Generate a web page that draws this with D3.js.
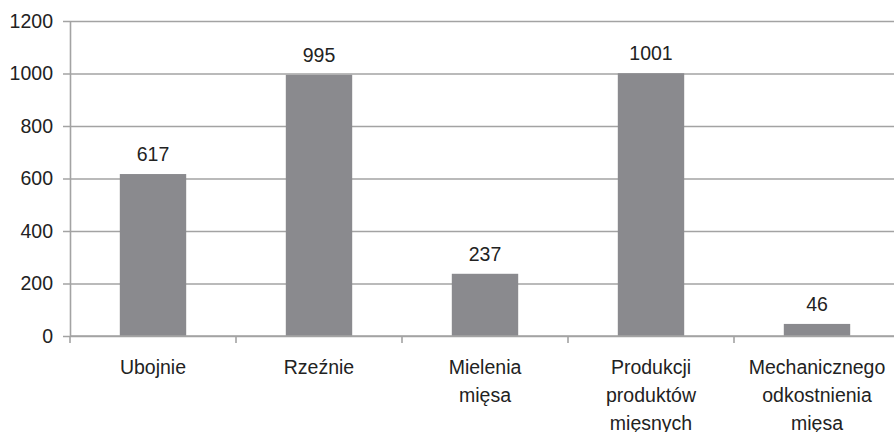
<!DOCTYPE html>
<html>
<head>
<meta charset="utf-8">
<script src="https://cdn.jsdelivr.net/npm/d3@7"></script>
<style>
  body { margin: 0; background: #fff; }
  text { font-family: "Liberation Sans", Arial, sans-serif; fill: #222; }
</style>
</head>
<body>
<div id="chart"></div>
<script>
// Data
var categories = ["Ubojnie", "Rzeźnie", "Mielenia mięsa", "Produkcji produktów mięsnych", "Mechanicznego odkostnienia mięsa"];
var labelLines = [["Ubojnie"], ["Rzeźnie"], ["Mielenia", "mięsa"], ["Produkcji", "produktów", "mięsnych"], ["Mechanicznego", "odkostnienia", "mięsa"]];
var values = [617, 995, 237, 1001, 46];
var yTicks = [0, 200, 400, 600, 800, 1000, 1200];

var svgWidth = 894;
var svgHeight = 432;
var fontSize = "19.5px";

var margin = { top: 21, right: -6, bottom: 96, left: 70 };
var chartWidth = svgWidth - margin.left - margin.right;
var chartHeight = svgHeight - margin.top - margin.bottom;

var svg = d3.select("#chart")
  .append("svg")
  .attr("width", svgWidth)
  .attr("height", svgHeight)
  .style("display", "block");

var chartGroup = svg.append("g")
  .attr("transform", `translate(${margin.left}, ${margin.top})`);

var xScale = d3.scaleBand()
  .domain(categories)
  .range([0, chartWidth])
  .paddingInner(0.6)
  .paddingOuter(0.3);

var yScale = d3.scaleLinear()
  .domain([0, 1200])
  .range([chartHeight, 0]);

// grid lines (with the little tick stubs on the left)
var yGrid = d3.axisLeft(yScale)
  .tickValues(yTicks)
  .tickSize(-chartWidth)
  .tickFormat("");

var gridG = chartGroup.append("g").call(yGrid);
gridG.select(".domain").remove();
gridG.selectAll("line")
  .attr("x1", -7)
  .attr("stroke", "#a3a3a3")
  .attr("stroke-width", 1.6);

// bars
chartGroup.selectAll("rect.bar")
  .data(values)
  .enter()
  .append("rect")
  .attr("class", "bar")
  .attr("x", (d, i) => xScale(categories[i]))
  .attr("y", d => yScale(d))
  .attr("width", xScale.bandwidth())
  .attr("height", d => chartHeight - yScale(d))
  .attr("fill", "#8a8a8e");

// y axis
var yAxis = d3.axisLeft(yScale)
  .tickValues(yTicks)
  .tickFormat(d3.format("d"))
  .tickSize(0)
  .tickPadding(17);

var yAxisG = chartGroup.append("g").call(yAxis);
yAxisG.attr("font-size", fontSize).attr("font-family", null);
yAxisG.select(".domain")
  .attr("stroke", "#a3a3a3")
  .attr("stroke-width", 1.6);
yAxisG.selectAll("text")
  .attr("fill", "#222");

// x axis line with ticks at band boundaries
var step = xScale.step();
var boundaries = d3.range(categories.length + 1).map(i => i * step);

chartGroup.append("line")
  .attr("x1", 0)
  .attr("x2", chartWidth)
  .attr("y1", chartHeight)
  .attr("y2", chartHeight)
  .attr("stroke", "#a3a3a3")
  .attr("stroke-width", 1.6);

chartGroup.selectAll("line.xtick")
  .data(boundaries)
  .enter()
  .append("line")
  .attr("class", "xtick")
  .attr("x1", d => d)
  .attr("x2", d => d)
  .attr("y1", chartHeight)
  .attr("y2", chartHeight + 7)
  .attr("stroke", "#a3a3a3")
  .attr("stroke-width", 1.6);

// category labels
var catText = chartGroup.selectAll("text.cat")
  .data(categories)
  .enter()
  .append("text")
  .attr("class", "cat")
  .attr("text-anchor", "middle")
  .attr("font-size", fontSize)
  .attr("x", d => xScale(d) + xScale.bandwidth() / 2)
  .attr("y", chartHeight + 38);

catText.each(function(d, i) {
  var t = d3.select(this);
  labelLines[i].forEach(function(line, j) {
    t.append("tspan")
      .attr("x", xScale(d) + xScale.bandwidth() / 2)
      .attr("dy", j === 0 ? 0 : 28)
      .text(line);
  });
});

// value labels
chartGroup.selectAll("text.val")
  .data(values)
  .enter()
  .append("text")
  .attr("class", "val")
  .attr("text-anchor", "middle")
  .attr("font-size", fontSize)
  .attr("x", (d, i) => xScale(categories[i]) + xScale.bandwidth() / 2)
  .attr("y", d => yScale(d) - 13)
  .text(d => d);
</script>
</body>
</html>
